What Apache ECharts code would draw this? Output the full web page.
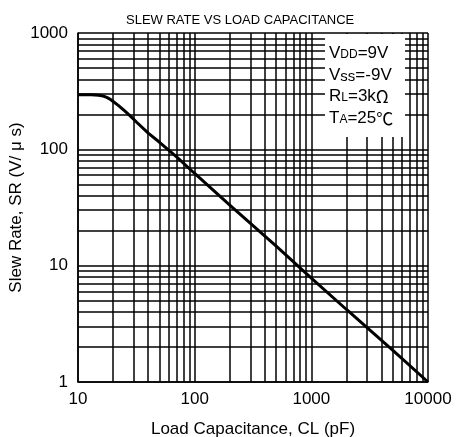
<!DOCTYPE html>
<html>
<head>
<meta charset="utf-8">
<script src="https://cdn.jsdelivr.net/npm/echarts@6/dist/echarts.min.js"></script>
<style>
html, body { margin: 0; padding: 0; background: #fff; }
#chart { width: 459px; height: 437px; }
</style>
</head>
<body>
<div id="chart"></div>
<script>
// 负载电容 (pF) / 压摆率 (V/us)
var loadCap = [10, 13, 15, 16, 17, 18, 19, 20, 22, 25, 28, 32, 40, 50, 70, 100, 200, 500, 1000, 2000, 5000, 10000];
var slewRate = [294, 294, 292, 289, 284, 277, 268, 258, 240, 215, 194, 170, 138, 115, 86, 62, 33.2, 14.7, 7.8, 4.2, 1.87, 1];
// 次网格线
var xMinor = [20, 30, 40, 50, 60, 70, 80, 90, 200, 300, 400, 500, 600, 700, 800, 900, 2000, 3000, 4000, 5000, 6000, 7000, 8000, 9000];
var yMinor = [2, 3, 4, 5, 6, 7, 8, 9, 20, 30, 40, 50, 60, 70, 80, 90, 200, 300, 400, 500, 600, 700, 800, 900];

var FONT = '"Liberation Sans", Arial, sans-serif';
var gridLine = { color: '#000', width: 1.5, type: 'solid' };

var chart = echarts.init(document.getElementById('chart'));

var lineData = loadCap.map(function (c, i) { return [c, slewRate[i]]; });
var minorLines = [];
xMinor.forEach(function (v) { minorLines.push({ xAxis: v }); });
yMinor.forEach(function (v) { minorLines.push({ yAxis: v }); });

function legendText(text, y) {
    return {
        type: 'text',
        left: 329,
        top: y,
        z: 101,
        style: {
            text: text,
            fill: '#000',
            rich: {
                a: { fontSize: 17, fontFamily: FONT, verticalAlign: 'bottom', lineHeight: 19 },
                b: { fontSize: 12, fontFamily: FONT, verticalAlign: 'bottom', lineHeight: 19, padding: [0, 0, 1, 0] },
                s: { fontSize: 15, fontFamily: FONT, verticalAlign: 'bottom', lineHeight: 19 },
                g: { fontSize: 17, fontFamily: '"Noto Sans CJK SC", "DejaVu Serif", serif', verticalAlign: 'bottom', lineHeight: 19 }
            }
        }
    };
}

var option = {
    animation: false,
    backgroundColor: '#fff',
    title: {
        text: 'SLEW RATE VS LOAD CAPACITANCE',
        left: 121,
        top: 9,
        textStyle: { fontSize: 13, fontWeight: 'normal', color: '#000', fontFamily: FONT }
    },
    grid: { left: 78, right: 31, top: 33, bottom: 55, containLabel: false, outerBoundsMode: 'none' },
    xAxis: {
        type: 'log',
        logBase: 10,
        min: 10,
        max: 10000,
        name: 'Load Capacitance, CL (pF)',
        nameLocation: 'middle',
        nameGap: 39,
        nameMoveOverlap: false,
        nameTextStyle: { fontSize: 17, color: '#000', fontFamily: FONT },
        axisLine: { lineStyle: { color: '#000', width: 1.5 } },
        axisTick: { show: false },
        axisLabel: { fontSize: 17, color: '#000', fontFamily: FONT, margin: 9, formatter: function (v) { return String(v); } },
        splitLine: { show: true, lineStyle: gridLine }
    },
    yAxis: {
        type: 'log',
        logBase: 10,
        min: 1,
        max: 1000,
        name: 'Slew Rate, SR (V/ μ s)',
        nameLocation: 'middle',
        nameRotate: 90,
        nameGap: 53,
        nameMoveOverlap: false,
        nameTextStyle: { fontSize: 17, color: '#000', fontFamily: FONT },
        axisLine: { lineStyle: { color: '#000', width: 1.5 } },
        axisTick: { show: false },
        axisLabel: { fontSize: 17, color: '#000', fontFamily: FONT, margin: 10, formatter: function (v) { return String(v); } },
        splitLine: { show: true, lineStyle: gridLine }
    },
    graphic: [
        { type: 'rect', left: 325, top: 34, z: 100, shape: { width: 80, height: 103 }, style: { fill: '#fff' } },
        legendText('{a|V}{b|DD}{a|=9V}', 45),
        legendText('{a|V}{s|ss}{a|=-9V}', 67),
        legendText('{a|R}{b|L}{a|=3k}{g|Ω}', 88),
        legendText('{a|T}{b|A}{a|=25}{g|℃}', 110)
    ],
    series: [{
        type: 'line',
        data: lineData,
        smooth: false,
        symbol: 'none',
        z: 10,
        lineStyle: { color: '#000', width: 3 },
        markLine: {
            silent: true,
            symbol: 'none',
            label: { show: false },
            lineStyle: gridLine,
            z: 1,
            data: minorLines
        }
    }]
};
chart.setOption(option);
</script>
</body>
</html>
